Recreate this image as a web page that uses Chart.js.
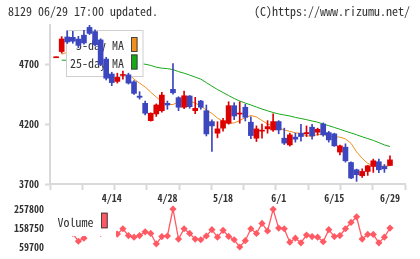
<!DOCTYPE html>
<html><head><meta charset="utf-8">
<script src="https://cdn.jsdelivr.net/npm/chart.js@4.4.1/dist/chart.umd.min.js"></script>
<style>
html,body{margin:0;padding:0;background:#fff;}
#wrap{position:relative;width:420px;height:259px;overflow:hidden;background:#fff;}
.hdr{position:absolute;top:4px;font-size:12px;line-height:14px;font-family:"Noto Sans Mono CJK JP","DejaVu Sans Mono",monospace;color:#333;white-space:pre;}
#c1{position:absolute;left:0;top:0;}
#c2{position:absolute;left:0;top:190px;}
</style></head><body>
<div id="wrap">
<canvas id="c1" width="420" height="205"></canvas>
<canvas id="c2" width="420" height="69"></canvas>
<div class="hdr" style="left:8px">8129 06/29 17:00 updated.</div>
<div class="hdr" style="right:10px">(C)https://www.rizumu.net/</div>
</div>
<script>
const DATES = ['3/31','4/1','4/2','4/3','4/6','4/7','4/8','4/9','4/10','4/13',
 '4/14','4/15','4/16','4/17','4/20','4/21','4/22','4/23','4/24','4/27',
 '4/28','4/30','5/1','5/7','5/8','5/11','5/12','5/13','5/14','5/15',
 '5/18','5/19','5/20','5/21','5/22','5/25','5/26','5/27','5/28','5/29',
 '6/1','6/2','6/3','6/4','6/5','6/8','6/9','6/10','6/11','6/12',
 '6/15','6/16','6/17','6/18','6/19','6/22','6/23','6/24','6/25','6/26','6/29'];
const TICK_DATES = ['4/14','4/28','5/18','6/1','6/15','6/29'];
const PRICE_TICKS = [3700,4200,4700];

const OPEN  = [4756,4808,4930,4927,4912,4945,5010,4975,4905,4745,
 4620,4558,4608,4613,4555,4435,4375,4230,4286,4313,
 4375,4492,4422,4342,4436,4313,4394,4313,4222,4125,
 4167,4208,4355,4285,4342,4217,4083,4142,4161,4152,
 4222,4083,4027,4092,4125,4120,4175,4133,4202,4130,
 4119,3967,4008,3880,3819,3769,3805,3847,3886,3847,3855];
const HIGH  = [4758,4933,4980,4977,4935,4985,5030,4990,4915,4760,
 4635,4627,4644,4627,4565,4472,4394,4295,4370,4467,
 4394,4708,4430,4477,4440,4425,4400,4361,4236,4221,
 4250,4388,4380,4388,4367,4261,4186,4202,4230,4286,
 4230,4167,4125,4125,4200,4186,4200,4167,4211,4140,
 4125,4025,4036,3885,3825,3827,3855,3908,3908,3863,3936];
const LOW   = [4756,4794,4875,4877,4840,4870,4950,4855,4690,4570,
 4522,4544,4577,4536,4450,4410,4277,4226,4265,4300,
 4325,4452,4313,4330,4333,4288,4325,4102,3972,4086,
 4142,4200,4238,4208,4227,4080,4055,4083,4125,4140,
 4120,4030,4017,4050,4058,4097,4075,4108,4100,4050,
 4015,3944,3883,3744,3722,3755,3772,3797,3794,3797,3855];
const CLOSE = [4758,4913,4888,4894,4860,4880,4960,4865,4700,4585,
 4548,4592,4612,4544,4458,4425,4292,4292,4361,4444,
 4361,4463,4342,4438,4347,4333,4342,4119,4186,4161,
 4230,4355,4269,4292,4258,4105,4161,4150,4180,4222,
 4152,4042,4111,4075,4097,4130,4102,4158,4111,4069,
 4019,4019,3894,3750,3778,3805,3852,3894,3819,3827,3902];
const MA5 = [null,4785,4802,4835,4869,4902,4919,4911,4869,4819,
 4769,4722,4671,4622,4577,4544,4511,4469,4427,4390,
 4365,4365,4386,4398,4394,4377,4352,4319,4290,4252,
 4223,4208,4211,4231,4256,4273,4261,4231,4202,4186,
 4169,4152,4140,4129,4121,4104,4098,4115,4115,4102,
 4095,4092,4077,4040,3969,3915,3873,3852,3846,3850,3852];
const MA25 = [null,4736,4735,4733,4732,4730,4729,4727,4726,4724,
 4722,4720,4718,4715,4711,4707,4702,4692,4677,4669,
 4665,4657,4640,4627,4611,4594,4577,4548,4519,4490,
 4465,4440,4415,4394,4377,4361,4344,4327,4312,4298,
 4286,4277,4269,4257,4248,4238,4227,4217,4202,4188,
 4173,4158,4142,4127,4112,4095,4080,4065,4046,4027,4013];
const VOLUME = [195000,172000,150000,130000,89600,105800,158000,145000,131000,162000,
 176000,126900,154800,119000,110700,119000,138700,130300,76400,114100,
 117100,257800,100900,154800,130300,100900,97500,117100,150000,111000,
 146500,115000,97500,59700,92600,154800,130300,182800,143600,256000,
 158300,154800,84700,105800,81300,122000,114100,111000,87000,150000,
 114100,119000,154800,187700,217100,100900,125400,125400,81300,110700,158300];

const FONT = '"Noto Sans Mono CJK JP","DejaVu Sans Mono",monospace';
const RED = '#dd0000', BLUE = '#3c46be', ORANGE = '#f0901e', GREEN = '#18a818', PINK = '#ff5a64', AXIS = '#d9d9d9';
Chart.defaults.font.family = FONT;
Chart.defaults.color = '#333';

const candleColors = OPEN.map((o,i)=> CLOSE[i] >= o ? RED : BLUE);
const X_MIN = -1.1, X_MAX = 62.7;

const mainLegend = {
  id: 'mainLegend',
  beforeDatasetsDraw(chart){ chart.$lg = false; },
  beforeDatasetDraw(chart, args){
    const ds = chart.data.datasets[args.index];
    if (!ds.candle || chart.$lg) return;
    chart.$lg = true;
    const ctx = chart.ctx, a = chart.chartArea;
    const bx = a.left + 16, by = a.top + 5, bw = 77.5, bh = 47;
    ctx.save();
    ctx.fillStyle = '#fff';
    ctx.fillRect(bx, by, bw, bh);
    ctx.strokeStyle = '#cfcfcf'; ctx.lineWidth = 1;
    ctx.strokeRect(bx + 0.5, by + 0.5, bw - 1, bh - 1);
    const items = chart.data.datasets.filter(d => d.inLegend);
    ctx.font = '12px ' + FONT; ctx.textAlign = 'right'; ctx.textBaseline = 'alphabetic';
    items.forEach((d, k) => {
      const cy = by + 14.5 + k * 17.5;
      ctx.fillStyle = '#333';
      ctx.fillText(d.label, bx + 58, cy + 5.5);
      ctx.fillStyle = d.borderColor;
      ctx.fillRect(bx + 65, cy - 7.5, 6.5, 15);
      ctx.strokeStyle = '#444';
      ctx.strokeRect(bx + 65.5, cy - 7, 5.5, 14);
    });
    ctx.restore();
  }
};

const volLegend = {
  id: 'volLegend',
  afterDatasetsDraw(chart){
    const ctx = chart.ctx, a = chart.chartArea;
    ctx.save();
    ctx.fillStyle = '#fff';
    ctx.fillRect(a.left + 1, a.top - 4, 65, 31);
    const d = chart.data.datasets[0];
    ctx.font = '12px ' + FONT; ctx.textAlign = 'right'; ctx.textBaseline = 'alphabetic';
    ctx.fillStyle = '#333';
    ctx.fillText(d.label, a.left + 43.5, a.top + 17.7);
    ctx.fillStyle = d.borderColor;
    ctx.fillRect(a.left + 51, a.top + 3.7, 6.7, 15.6);
    ctx.strokeStyle = '#444'; ctx.lineWidth = 1;
    ctx.strokeRect(a.left + 51.5, a.top + 4.2, 5.7, 14.6);
    ctx.restore();
  }
};

new Chart(document.getElementById('c1'), {
  type: 'bar',
  data: { datasets: [
    { type:'line', label:'5-day MA', inLegend:true, data: MA5.map((v,i)=>({x:i,y:v})), borderColor:ORANGE, borderWidth:1, pointRadius:0, order:10, tension:0 },
    { type:'line', label:'25-day MA', inLegend:true, data: MA25.map((v,i)=>({x:i,y:v})), borderColor:GREEN, borderWidth:1, pointRadius:0, order:11, tension:0 },
    { type:'bar', label:'wick', candle:true, data: HIGH.map((h,i)=>({x:i,y:[LOW[i],h]})), backgroundColor:candleColors, barThickness:1, grouped:false, minBarLength:1, order:5 },
    { type:'bar', label:'body', candle:true, data: OPEN.map((o,i)=>({x:i,y:[o,CLOSE[i]]})), backgroundColor:candleColors, barThickness:5, grouped:false, minBarLength:1, order:1 }
  ]},
  options: {
    responsive:false, animation:false, events:[],
    layout:{ padding:{ top:25, right:15, left:0, bottom:0 } },
    plugins:{ legend:{display:false}, tooltip:{enabled:false} },
    scales:{
      x:{ type:'linear', min:X_MIN, max:X_MAX, bounds:'data', offset:false,
        afterFit(s){ s.height = 21; },
        afterBuildTicks(s){
          const t = [];
          for (let k = 0; k <= 11; k++) t.push({ value: s.min + (s.max - s.min) * k / 11 });
          TICK_DATES.forEach(d => t.push({ value: DATES.indexOf(d), lbl: d }));
          t.sort((p,q)=>p.value-q.value);
          s.ticks = t;
        },
        ticks:{ autoSkip:false, maxRotation:0, minRotation:0, padding:2, font:{size:10, weight:'bold'}, color:'#333',
          callback(v, i, ticks){ return ticks[i].lbl || ''; } },
        grid:{ offset:false, drawOnChartArea:false, tickLength:6, tickWidth:2,
          tickColor: c => (c.tick && c.tick.lbl) ? 'rgba(0,0,0,0)' : AXIS },
        border:{ color:AXIS, width:2 }
      },
      y:{ min:3700, max:5030, bounds:'data',
        afterFit(s){ s.width = 50; },
        afterBuildTicks(s){ s.ticks = PRICE_TICKS.map(v=>({value:v})); },
        ticks:{ padding:6, font:{size:10, weight:'bold'}, color:'#333', callback: v => String(v) },
        grid:{ drawOnChartArea:false, tickLength:5, tickWidth:2, tickColor:AXIS },
        border:{ color:AXIS, width:2 }
      }
    }
  },
  plugins:[mainLegend]
});

const vMin = Math.min(...VOLUME), vMax = Math.max(...VOLUME);
new Chart(document.getElementById('c2'), {
  type:'line',
  data:{ datasets:[{ label:'Volume', data: VOLUME.map((v,i)=>({x:i,y:v})), borderColor:PINK, backgroundColor:PINK,
    borderWidth:1.3, pointStyle:'rectRot', pointRadius:3.6, pointBorderWidth:0, tension:0, clip:false }]},
  options:{
    responsive:false, animation:false, events:[],
    layout:{ padding:{ top:19, bottom:10, right:15, left:0 } },
    plugins:{ legend:{display:false}, tooltip:{enabled:false} },
    scales:{
      x:{ type:'linear', display:false, min:X_MIN, max:X_MAX },
      y:{ min:vMin, max:vMax, bounds:'data',
        afterFit(s){ s.width = 50; },
        afterBuildTicks(s){ s.ticks = [{value:s.min},{value:(s.min+s.max)/2},{value:s.max}]; },
        ticks:{ padding:6, font:{size:10, weight:'bold'}, color:'#333', callback: v => String(Math.round(v)) },
        grid:{ display:false, drawTicks:false },
        border:{ display:false }
      }
    }
  },
  plugins:[volLegend]
});
</script>
</body></html>
